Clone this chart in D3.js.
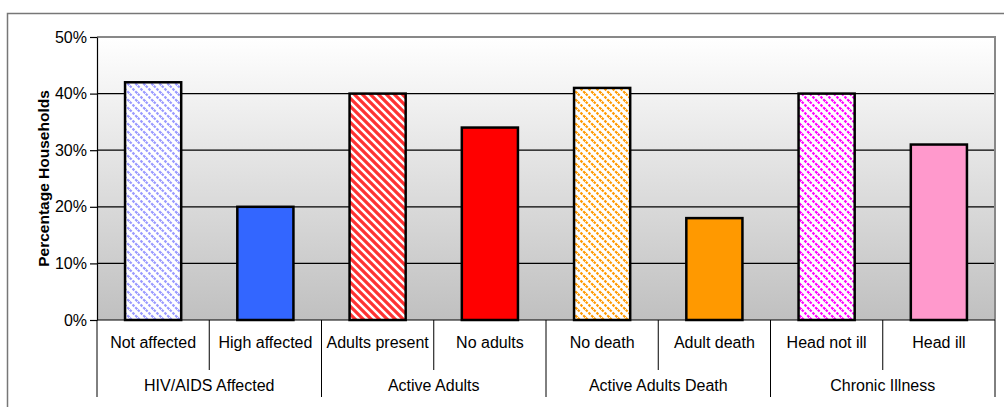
<!DOCTYPE html>
<html>
<head>
<meta charset="utf-8">
<script src="https://cdn.jsdelivr.net/npm/d3@7"></script>
<style>
    body { margin: 0; background: #fff; }
    svg { display: block; font-family: "Liberation Sans", Arial, sans-serif; }
</style>
</head>
<body>
<div id="chart"></div>
<script>
/** Chart data. */
const CATEGORIES = ["Not affected", "High affected", "Adults present", "No adults",
    "No death", "Adult death", "Head not ill", "Head ill"];
const VALUES = [42, 20, 40, 34, 41, 18, 40, 31];
const GROUPS = ["HIV/AIDS Affected", "Active Adults", "Active Adults Death", "Chronic Illness"];
const GROUP_SIZES = [2, 2, 2, 2];
const Y_TICKS = [0, 10, 20, 30, 40, 50];
const COLORS = ["#9999ff", "#3366ff", "#ff3333", "#ff0000", "#ff9900", "#ff9900", "#ff00ff", "#ff99cc"];
const HATCHED = [true, false, true, false, true, false, true, false];

const WIDTH = 1004;
const HEIGHT = 407;
const MARGIN = {left: 97, right: 9, top: 37, bottom: 87};
const VIEW_WIDTH = WIDTH - MARGIN.left - MARGIN.right;
const VIEW_HEIGHT = HEIGHT - MARGIN.top - MARGIN.bottom;
const HATCH = 8;

const x = d3.scaleBand()
    .domain(CATEGORIES)
    .range([0, VIEW_WIDTH])
    .paddingInner(0.5)
    .paddingOuter(0.25);
const y = d3.scaleLinear()
    .domain([0, 50])
    .range([VIEW_HEIGHT, 0]);

const svg = d3.select("#chart").append("svg")
    .attr("width", WIDTH)
    .attr("height", HEIGHT);

const defs = svg.append("defs");

// Background gradient of the plot area.
const grad = defs.append("linearGradient")
    .attr("id", "bg")
    .attr("x1", 0).attr("y1", 0).attr("x2", 0).attr("y2", 1);
grad.append("stop").attr("offset", "0%").attr("stop-color", "#ffffff");
grad.append("stop").attr("offset", "100%").attr("stop-color", "#c0c0c0");

// Diagonal hatch patterns, one per hatched bar.
COLORS.forEach((c, i) => {
    if (!HATCHED[i]) return;
    const thick = i === 2;
    const h = HATCH;
    const p = defs.append("pattern")
        .attr("id", `hatch${i}`)
        .attr("patternUnits", "userSpaceOnUse")
        .attr("width", h)
        .attr("height", h);
    p.append("rect").attr("width", h).attr("height", h).attr("fill", "#fff");
    p.append("path")
        .attr("d", `M-2,-2 L${h + 2},${h + 2} M-4,${h - 4} L4,${h + 4} M${h - 4},-4 L${h + 4},4`)
        .attr("stroke", c)
        .attr("stroke-width", thick ? 3.2 : 2.2)
        .attr("stroke-dasharray", thick ? null : "2.6,1.3");
});

// Outer chart frame.
svg.append("path")
    .attr("d", `M7.5,${HEIGHT} V13.5 H${WIDTH}`)
    .attr("fill", "none")
    .attr("stroke", "#777")
    .attr("stroke-width", 1.5);

const g = svg.append("g")
    .attr("transform", `translate(${MARGIN.left},${MARGIN.top})`);

g.append("rect")
    .attr("width", VIEW_WIDTH)
    .attr("height", VIEW_HEIGHT)
    .attr("fill", "url(#bg)");

// Gridlines.
g.selectAll("line.grid")
    .data(Y_TICKS.filter(t => t > 0 && t < 50))
    .join("line")
    .attr("class", "grid")
    .attr("x1", 0).attr("x2", VIEW_WIDTH)
    .attr("y1", d => y(d)).attr("y2", d => y(d))
    .attr("stroke", "#000")
    .attr("stroke-width", 1.2);

// Plot border.
g.append("path")
    .attr("d", `M0,0 H${VIEW_WIDTH} V${VIEW_HEIGHT}`)
    .attr("fill", "none")
    .attr("stroke", "#888")
    .attr("stroke-width", 2);

// Bars.
g.selectAll("rect.bar")
    .data(VALUES)
    .join("rect")
    .attr("class", "bar")
    .attr("x", (d, i) => x(CATEGORIES[i]))
    .attr("y", d => y(d))
    .attr("width", x.bandwidth())
    .attr("height", d => y(0) - y(d))
    .attr("fill", (d, i) => HATCHED[i] ? `url(#hatch${i})` : COLORS[i])
    .attr("stroke", "#000")
    .attr("stroke-width", 2.5);

// Y axis.
const yAxis = d3.axisLeft(y)
    .tickValues(Y_TICKS)
    .tickFormat(d => d + "%")
    .tickSizeInner(7)
    .tickSizeOuter(0)
    .tickPadding(3);
const ya = g.append("g").call(yAxis);
ya.select(".domain").attr("stroke", "#000").attr("stroke-width", 1.2);
ya.selectAll("line").attr("stroke", "#000").attr("stroke-width", 1.2);
ya.selectAll("text").attr("font-size", 16).attr("fill", "#000");

g.append("text")
    .attr("transform", `translate(${-48},${VIEW_HEIGHT / 2}) rotate(-90)`)
    .attr("text-anchor", "middle")
    .attr("font-size", 15.5)
    .attr("font-weight", "bold")
    .text("Percentage Households");

// Category axis with two levels.
const step = x.step();
const bottom = g.append("g").attr("transform", `translate(0,${VIEW_HEIGHT})`);
bottom.append("line")
    .attr("x1", 0).attr("x2", VIEW_WIDTH)
    .attr("stroke", "#000").attr("stroke-width", 1.2);

bottom.selectAll("text.cat")
    .data(CATEGORIES)
    .join("text")
    .attr("class", "cat")
    .attr("x", d => x(d) + x.bandwidth() / 2)
    .attr("y", 28)
    .attr("text-anchor", "middle")
    .attr("font-size", 16)
    .text(d => d);

// Separators between categories and between groups.
const starts = [0];
GROUP_SIZES.forEach(s => starts.push(starts[starts.length - 1] + s));
bottom.selectAll("line.sep")
    .data(d3.range(CATEGORIES.length + 1))
    .join("line")
    .attr("class", "sep")
    .attr("x1", i => i * step).attr("x2", i => i * step)
    .attr("y1", 0)
    .attr("y2", i => starts.includes(i) ? 77 : 50)
    .attr("stroke", "#000")
    .attr("stroke-width", 1);

bottom.selectAll("text.group")
    .data(GROUPS)
    .join("text")
    .attr("class", "group")
    .attr("x", (d, i) => (starts[i] + GROUP_SIZES[i] / 2) * step)
    .attr("y", 71)
    .attr("text-anchor", "middle")
    .attr("font-size", 16)
    .text(d => d);
</script>
</body>
</html>
